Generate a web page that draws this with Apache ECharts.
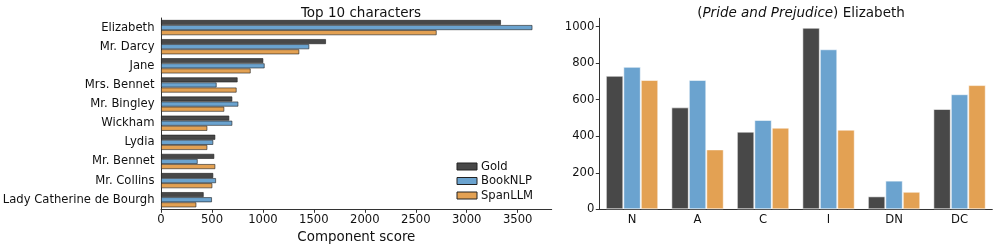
<!DOCTYPE html>
<html><head><meta charset="utf-8">
<script src="https://cdn.jsdelivr.net/npm/echarts@6/dist/echarts.min.js"></script>
<style>html,body{margin:0;padding:0;background:#fff}#c{width:996px;height:246px}</style>
</head><body><div id="c"></div>
<script>
const characters = ["Elizabeth","Mr. Darcy","Jane","Mrs. Bennet","Mr. Bingley","Wickham","Lydia","Mr. Bennet","Mr. Collins","Lady Catherine de Bourgh"];
const goldTop = [3336,1619,1004,752,700,670,533,523,513,419];
const bookTop = [3645,1455,1017,546,759,700,513,360,540,500];
const spanTop = [2705,1357,880,742,621,455,455,533,504,347];
const leftTicks = [0,500,1000,1500,2000,2500,3000,3500];

const components = ["N","A","C","I","DN","DC"];
const goldEliz = [731,558,425,994,71,549];
const bookEliz = [780,708,489,876,157,630];
const spanEliz = [708,328,447,436,96,680];
const rightTicks = [0,200,400,600,800,1000];

const seriesNames = ["Gold","BookNLP","SpanLLM"];
const colors = ["#484848","#6ba3cf","#e3a153"];
const FONT = "DejaVu Sans";
const axisCol = "#333";
const FS = 11.6;
const plain = v => String(v);

const chart = echarts.init(document.getElementById('c'), null, {renderer:'canvas'});
const leftData = [goldTop, bookTop, spanTop];
const rightData = [goldEliz, bookEliz, spanEliz];
const series = [];
seriesNames.forEach((n,i)=>{
  series.push({type:'bar', name:n, xAxisIndex:0, yAxisIndex:0, data:leftData[i],
    barGap:'0%', barCategoryGap:'20%',
    itemStyle:{color:colors[i], borderColor:'rgba(30,30,30,0.75)', borderWidth:0.8},
    emphasis:{disabled:true}, silent:true});
});
seriesNames.forEach((n,i)=>{
  series.push({type:'bar', name:n+' ', xAxisIndex:1, yAxisIndex:1, data:rightData[i],
    barGap:'0%', barCategoryGap:'20%',
    itemStyle:{color:colors[i], borderColor:'rgba(255,255,255,0.55)', borderWidth:1},
    emphasis:{disabled:true}, silent:true});
});

chart.setOption({
  animation:false,
  textStyle:{fontFamily:FONT},
  title:[
    {text:'Top 10 characters', left:356, top:1, textAlign:'center',
     textStyle:{fontFamily:FONT, fontSize:13.5, fontWeight:'normal', color:'#111'}},
    {text:'{n|(}{i|Pride and Prejudice}{n|) Elizabeth}', left:796, top:1, textAlign:'center',
     textStyle:{fontFamily:FONT, fontSize:13.5, fontWeight:'normal', color:'#111',
       rich:{n:{fontFamily:FONT,fontSize:13.5,color:'#111'}, i:{fontFamily:FONT,fontSize:13.5,fontStyle:'italic',color:'#111'}}}}
  ],
  legend:{
    data:seriesNames, orient:'vertical', left:456.5, top:160.5, padding:0,
    itemWidth:20, itemHeight:7, itemGap:2.5, icon:'rect',
    textStyle:{fontFamily:FONT, fontSize:FS, color:'#111', padding:[0,0,0,-1]},
    itemStyle:{borderColor:'#222', borderWidth:1}
  },
  grid:[
    {left:161, right:444.3, top:18, bottom:36.7, containLabel:false, outerBoundsMode:'none'},
    {left:599.3, right:3.7, top:18.3, bottom:36.7, containLabel:false, outerBoundsMode:'none'}
  ],
  xAxis:[
    {type:'value', gridIndex:0, min:0, max:3834,
     name:'Component score', nameLocation:'middle', nameGap:19,
     nameTextStyle:{fontFamily:FONT, fontSize:13.4, color:'#111'},
     splitLine:{show:false},
     axisLine:{show:true, lineStyle:{color:axisCol, width:1}},
     axisTick:{show:true, length:3.5, lineStyle:{color:axisCol}, customValues:leftTicks},
     axisLabel:{fontFamily:FONT, fontSize:FS, color:'#111', margin:5, customValues:leftTicks, formatter:plain}},
    {type:'category', gridIndex:1, data:components,
     axisLine:{lineStyle:{color:axisCol, width:1}},
     axisTick:{alignWithLabel:true, length:3.5, lineStyle:{color:axisCol}},
     axisLabel:{fontFamily:FONT, fontSize:FS, color:'#111', margin:5}}
  ],
  yAxis:[
    {type:'category', gridIndex:0, data:characters, inverse:true,
     axisLine:{lineStyle:{color:axisCol, width:1}},
     axisTick:{alignWithLabel:true, length:3.5, lineStyle:{color:axisCol}},
     axisLabel:{fontFamily:FONT, fontSize:FS, color:'#111', margin:6.5}},
    {type:'value', gridIndex:1, min:0, max:1045.6,
     splitLine:{show:false},
     axisLine:{show:true, lineStyle:{color:axisCol, width:1}},
     axisTick:{show:true, length:3.5, lineStyle:{color:axisCol}, customValues:rightTicks},
     axisLabel:{fontFamily:FONT, fontSize:FS, color:'#111', margin:5, customValues:rightTicks, formatter:plain}}
  ],
  series:series
});
</script></body></html>
